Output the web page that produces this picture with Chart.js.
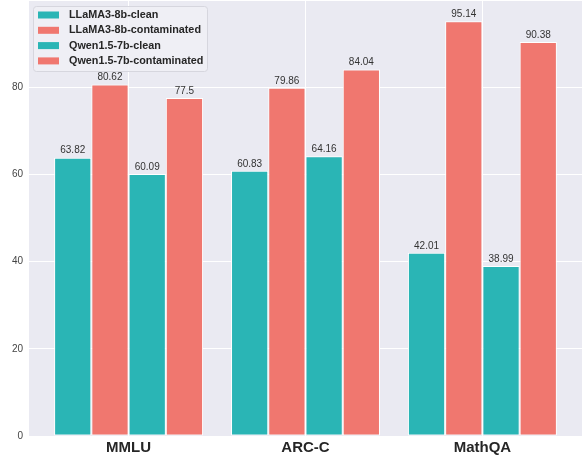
<!DOCTYPE html>
<html>
<head>
<meta charset="utf-8">
<script src="https://cdn.jsdelivr.net/npm/chart.js@4"></script>
<style>
    body { margin: 0; background: #fff; }
    #wrap { width: 584px; height: 457px; position: relative; }
</style>
</head>
<body>
<div id="wrap"><canvas id="benchChart"></canvas></div>
<script>
// Chart data
const categories = ['MMLU', 'ARC-C', 'MathQA'];
const seriesNames = ['LLaMA3-8b-clean', 'LLaMA3-8b-contaminated', 'Qwen1.5-7b-clean', 'Qwen1.5-7b-contaminated'];
const llamaClean = [63.82, 60.83, 42.01];
const llamaContaminated = [80.62, 79.86, 95.14];
const qwenClean = [60.09, 64.16, 38.99];
const qwenContaminated = [77.5, 84.04, 90.38];
const yTicks = [0, 20, 40, 60, 80];

const TEAL = '#2ab5b5';
const SALMON = '#f0776f';
const FONT = "'Liberation Sans', Arial, sans-serif";

// Grey plot background (seaborn darkgrid look)
const plotBackground = {
    id: 'plotBackground',
    beforeDraw(chart) {
        const { ctx, chartArea: a } = chart;
        ctx.save();
        ctx.fillStyle = '#eaeaf2';
        ctx.fillRect(a.left, a.top, a.right - a.left, a.bottom - a.top);
        ctx.restore();
    }
};

// Value labels above bars
const valueLabels = {
    id: 'valueLabels',
    afterDatasetsDraw(chart) {
        const ctx = chart.ctx;
        ctx.save();
        ctx.font = '10px ' + FONT;
        ctx.fillStyle = '#333';
        ctx.textAlign = 'center';
        ctx.textBaseline = 'bottom';
        chart.data.datasets.forEach((ds, i) => {
            chart.getDatasetMeta(i).data.forEach((bar, j) => {
                ctx.fillText(String(ds.data[j].y), bar.x, bar.y - 2);
            });
        });
        ctx.restore();
    }
};

// Legend drawn inside the plot, top left
const insideLegend = {
    id: 'insideLegend',
    afterDraw(chart) {
        const { ctx, chartArea: a } = chart;
        const x = a.left + 4, y = a.top + 6, w = 174, h = 65;
        ctx.save();
        ctx.fillStyle = 'rgba(240,240,246,0.85)';
        ctx.strokeStyle = '#d6d6de';
        ctx.lineWidth = 1;
        ctx.beginPath();
        ctx.roundRect(x + 0.5, y + 0.5, w, h, 3);
        ctx.fill();
        ctx.stroke();
        ctx.font = 'bold 10.8px ' + FONT;
        ctx.textBaseline = 'middle';
        chart.data.datasets.forEach((ds, i) => {
            const rowY = y + 9 + i * 15.3;
            ctx.fillStyle = ds.backgroundColor;
            ctx.fillRect(x + 5, rowY - 3.5, 21, 7);
            ctx.fillStyle = '#262626';
            ctx.fillText(ds.label, x + 36, rowY);
        });
        ctx.restore();
    }
};

const seriesValues = [llamaClean, llamaContaminated, qwenClean, qwenContaminated];
const seriesColors = [TEAL, SALMON, TEAL, SALMON];

new Chart(document.getElementById('benchChart'), {
    type: 'bar',
    data: {
        datasets: seriesNames.map((name, i) => ({
            label: name,
            data: seriesValues[i].map((v, k) => ({ x: k, y: v })),
            backgroundColor: seriesColors[i],
            borderColor: '#ffffff',
            borderWidth: 1,
            borderSkipped: false,
            barPercentage: 1,
            categoryPercentage: 0.842
        }))
    },
    options: {
        responsive: true,
        maintainAspectRatio: false,
        animation: false,
        layout: { padding: { top: 0, right: 2, left: 0, bottom: 0 } },
        plugins: {
            legend: { display: false },
            tooltip: { enabled: false }
        },
        scales: {
            x: {
                type: 'linear',
                min: -0.563,
                max: 2.563,
                offset: false,
                grid: { color: '#ffffff', lineWidth: 1, drawTicks: false, offset: false },
                border: { display: false },
                afterBuildTicks(scale) {
                    scale.ticks = categories.map((c, k) => ({ value: k }));
                },
                ticks: {
                    color: '#262626',
                    font: { family: FONT, size: 15, weight: 'bold' },
                    padding: 3,
                    callback: v => categories[v] || ''
                },
                afterFit(scale) {
                    scale.height = 21;
                    scale.paddingLeft = 0;
                    scale.paddingRight = 0;
                }
            },
            y: {
                min: 0,
                max: 100,
                grid: { color: '#ffffff', lineWidth: 1, drawTicks: false },
                border: { display: false },
                afterBuildTicks(scale) {
                    scale.ticks = yTicks.concat([100]).map(v => ({ value: v }));
                },
                ticks: {
                    color: '#444',
                    font: { family: FONT, size: 10 },
                    padding: 6,
                    callback: v => (yTicks.includes(v) ? String(v) : '')
                },
                afterFit(scale) {
                    scale.width = 29;
                    scale.paddingTop = 0;
                    scale.paddingBottom = 0;
                }
            }
        }
    },
    plugins: [plotBackground, valueLabels, insideLegend]
});
</script>
</body>
</html>
